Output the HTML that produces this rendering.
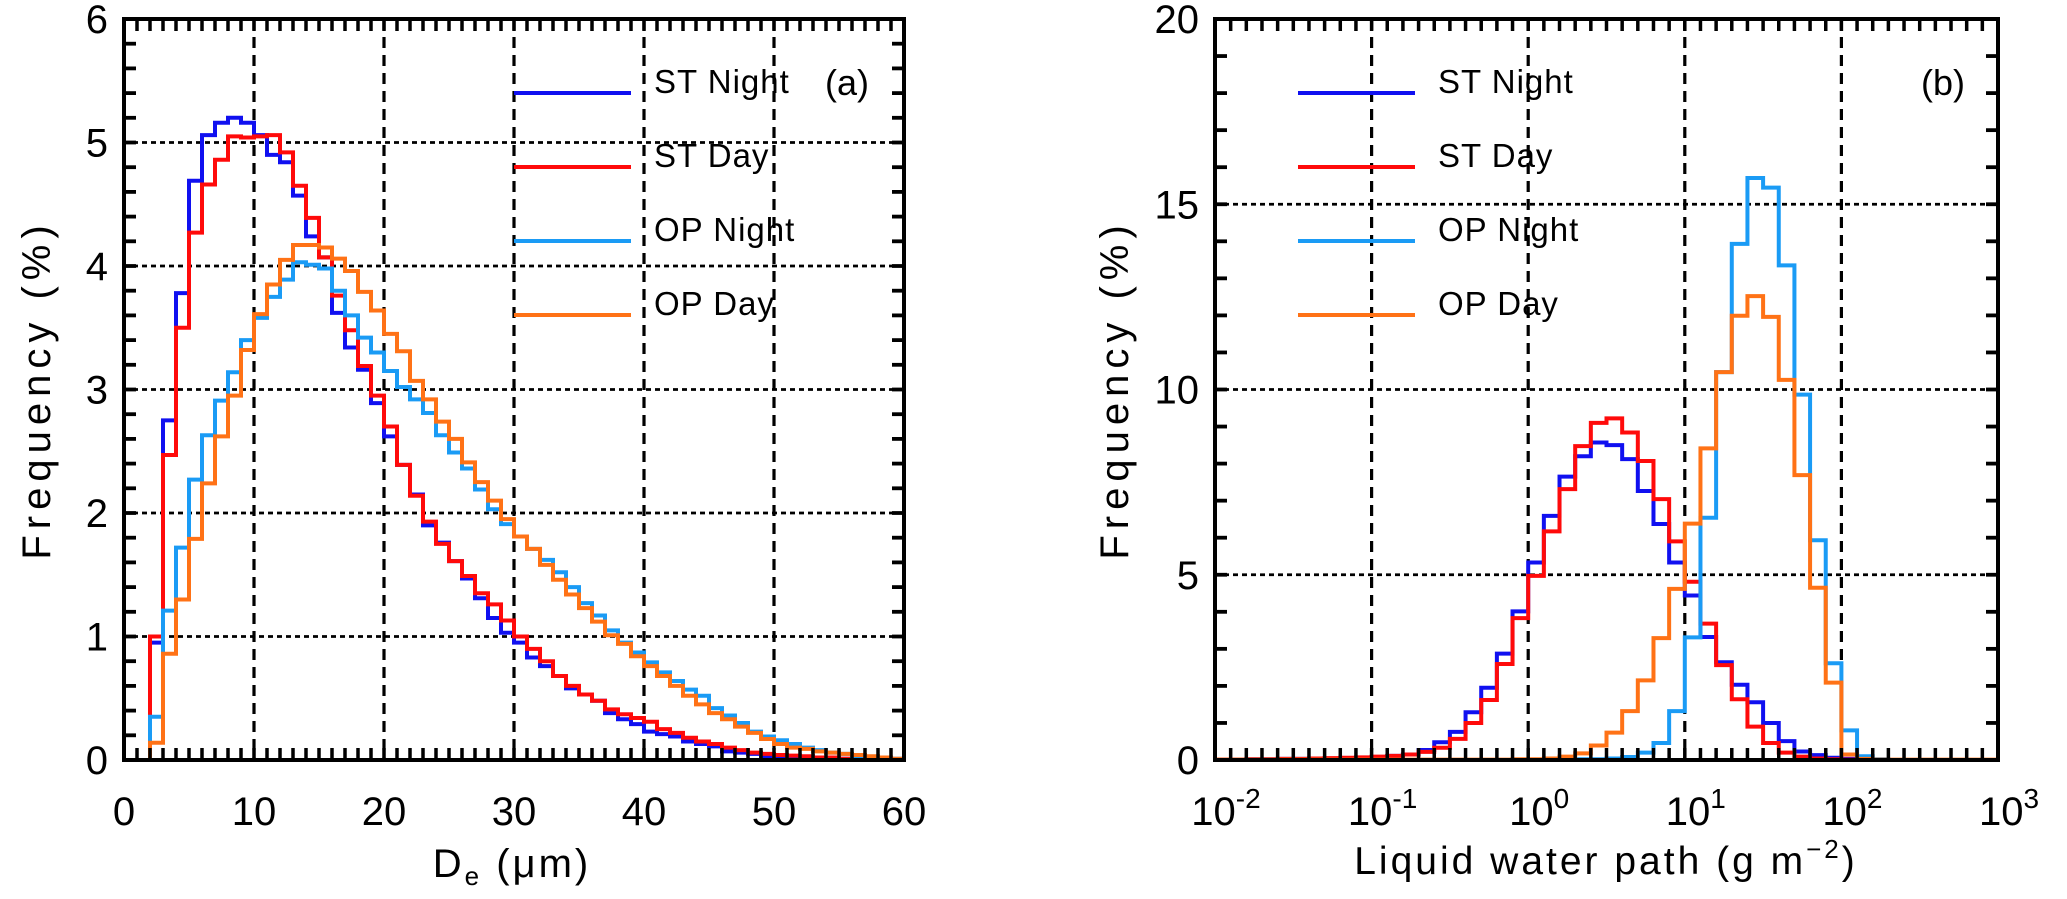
<!DOCTYPE html>
<html><head><meta charset="utf-8"><style>
html,body{margin:0;padding:0;background:#fff;}
svg{display:block;font-family:"Liberation Sans",sans-serif;}
</style></head><body>
<svg id="fig" width="2067" height="899" viewBox="0 0 2067 899" xmlns="http://www.w3.org/2000/svg">
<g id="pa"></g>
<g id="pb"></g>
</svg>
<script>
// ---------- Panel (a) data: De bins (1 µm wide), left edges ----------
const aBinLeft = Array.from({length:59},(_,i)=>i+1);
const aBinWidth = 1;
const aSTNight = [0,0.95,2.75,3.78,4.69,5.06,5.16,5.2,5.16,5.06,4.9,4.84,4.57,4.24,4.07,3.62,3.34,3.16,2.89,2.62,2.39,2.15,1.9,1.76,1.61,1.47,1.31,1.15,1.03,0.95,0.83,0.76,0.68,0.58,0.53,0.48,0.38,0.33,0.29,0.23,0.21,0.19,0.15,0.13,0.11,0.07,0.06,0.05,0.03,0.03,0.02,0.02,0.01,0.01,0.01,0,0,0,0];
const aSTDay = [0,1.0,2.47,3.5,4.27,4.66,4.86,5.05,5.04,5.05,5.06,4.92,4.65,4.39,4.07,3.76,3.48,3.19,2.95,2.7,2.39,2.14,1.93,1.75,1.61,1.49,1.35,1.26,1.13,1.0,0.9,0.8,0.68,0.6,0.53,0.48,0.41,0.37,0.34,0.31,0.25,0.22,0.18,0.15,0.13,0.1,0.08,0.06,0.05,0.04,0.035,0.03,0.02,0.02,0.01,0.01,0.01,0,0];
const aOPNight = [0,0.35,1.21,1.72,2.27,2.63,2.91,3.14,3.4,3.58,3.75,3.89,4.03,4.01,3.98,3.8,3.6,3.42,3.3,3.15,3.02,2.92,2.81,2.63,2.49,2.36,2.19,2.03,1.91,1.81,1.71,1.62,1.52,1.4,1.27,1.17,1.05,0.95,0.87,0.79,0.71,0.64,0.57,0.52,0.42,0.36,0.3,0.23,0.19,0.16,0.13,0.1,0.08,0.06,0.05,0.03,0.02,0.02,0.01];
const aOPDay = [0,0.14,0.86,1.3,1.79,2.24,2.62,2.95,3.32,3.61,3.85,4.05,4.17,4.17,4.15,4.06,3.96,3.79,3.64,3.45,3.31,3.07,2.92,2.74,2.6,2.41,2.25,2.1,1.95,1.81,1.71,1.58,1.46,1.34,1.23,1.12,1.01,0.94,0.84,0.76,0.68,0.6,0.52,0.45,0.38,0.33,0.27,0.22,0.17,0.13,0.1,0.09,0.07,0.06,0.05,0.04,0.03,0.02,0.01];
const aXTicks = [0,10,20,30,40,50,60];
const aXTickLabels = ["0","10","20","30","40","50","60"];
const aYTicks = [0,1,2,3,4,5,6];
const aYTickLabels = ["0","1","2","3","4","5","6"];

// ---------- Panel (b) data: LWP bins (0.1 decade), left edges in log10 ----------
const bBinLeftLog = Array.from({length:50},(_,i)=>-2+0.1*i);
const bBinWidthLog = 0.1;
const bSTNight = [0.01,0.01,0.02,0.02,0.03,0.03,0.04,0.04,0.05,0.06,0.08,0.11,0.15,0.27,0.48,0.76,1.29,1.95,2.87,4.01,5.33,6.59,7.65,8.2,8.57,8.5,8.12,7.26,6.37,5.33,4.44,3.32,2.64,2.03,1.56,1.0,0.51,0.23,0.13,0.06,0.03,0.01,0,0,0,0,0,0,0,0];
const bSTDay = [0.01,0.01,0.02,0.02,0.03,0.03,0.04,0.05,0.06,0.07,0.09,0.11,0.15,0.22,0.33,0.57,1.0,1.62,2.59,3.83,4.97,6.17,7.31,8.47,9.1,9.22,8.84,8.07,7.04,5.9,4.81,3.68,2.56,1.64,0.9,0.46,0.2,0.09,0.04,0.02,0.01,0,0,0,0,0,0,0,0,0];
const bOPNight = [0,0,0,0,0,0,0,0,0,0,0,0,0,0,0,0,0,0,0,0,0.01,0.01,0.02,0.02,0.02,0.04,0.08,0.2,0.46,1.32,3.31,6.54,10.47,13.93,15.71,15.45,13.35,9.86,5.93,2.61,0.8,0.1,0.02,0,0,0,0,0,0,0];
const bOPDay = [0.01,0.01,0.01,0.01,0.01,0.01,0.01,0.01,0.01,0.01,0.01,0.01,0.01,0.01,0.01,0.01,0.01,0.01,0.01,0.02,0.02,0.04,0.09,0.18,0.39,0.74,1.32,2.15,3.29,4.62,6.38,8.41,10.47,11.99,12.52,11.96,10.26,7.69,4.65,2.09,0.15,0.03,0.01,0.01,0.01,0.01,0.01,0.01,0.01,0.01];
const bXTicks = [-2,-1,0,1,2,3];
const bXTickExp = ["-2","-1","0","1","2","3"];
const bYTicks = [0,5,10,15,20];
const bYTickLabels = ["0","5","10","15","20"];

const seriesNames = ["ST Night","ST Day","OP Night","OP Day"];
const colors = ["#1010f0","#ff0a0a","#1a9bf5","#ff7216"];
const NS = "http://www.w3.org/2000/svg";

function mk(parent, tag, attrs, text){
  const e = document.createElementNS(NS, tag);
  for (const k in attrs) e.setAttribute(k, attrs[k]);
  if (text !== undefined) e.textContent = text;
  parent.appendChild(e);
  return e;
}

function drawPanel(g, cfg){
  const {L,R,T,B,xs,ys} = cfg;
  cfg.yGrid.forEach(v=>{
    const y = ys(v);
    const l = mk(g,'line',{x1:L,x2:R,y1:y,y2:y,stroke:'#000','stroke-width':2.8,'stroke-dasharray':'5 4'});
    
    
  });
  cfg.xGrid.forEach(v=>{
    const x = xs(v);
    const l = mk(g,'line',{x1:x,x2:x,y1:T,y2:B,stroke:'#000','stroke-width':3.2,'stroke-dasharray':'11 7'});
    
    
  });
  cfg.series.forEach((vals,si)=>{
    let d = '';
    vals.forEach((v,i)=>{
      const x0 = xs(cfg.binLeft[i]), x1 = xs(cfg.binLeft[i]+cfg.binW), y = ys(v);
      d += (i===0 ? `M${x0},${ys(0)}L${x0},${y}` : `L${x0},${y}`) + `L${x1},${y}`;
    });
    const p = mk(g,'path',{d:d,fill:'none',stroke:colors[si],'stroke-width':4,'stroke-linejoin':'miter'});
    
    
  });
  cfg.xMinor.forEach(v=>{
    const x = xs(v);
    mk(g,'line',{x1:x,x2:x,y1:B,y2:B-12,stroke:'#000','stroke-width':3.5});
    mk(g,'line',{x1:x,x2:x,y1:T,y2:T+12,stroke:'#000','stroke-width':3.5});
  });
  cfg.yMinor.forEach(v=>{
    const y = ys(v);
    mk(g,'line',{x1:L,x2:L+12,y1:y,y2:y,stroke:'#000','stroke-width':3.8});
    mk(g,'line',{x1:R,x2:R-12,y1:y,y2:y,stroke:'#000','stroke-width':3.8});
  });
  const f = mk(g,'rect',{x:L,y:T,width:R-L,height:B-T,fill:'none',stroke:'#000','stroke-width':4});
  
  
  const ly = [93,167,241,315];
  seriesNames.forEach((n,i)=>{
    const gl = mk(g,'g',{});
    
    
    mk(gl,'line',{x1:cfg.legX,x2:cfg.legX+117,y1:ly[i],y2:ly[i],stroke:colors[i],'stroke-width':4});
    mk(gl,'text',{x:cfg.legX+140,y:ly[i],'font-size':33,'letter-spacing':'1'}, n);
  });
  const pl = mk(g,'text',{x:cfg.tagX,y:95,'font-size':36,'text-anchor':'middle'},cfg.tag);
  
  
  cfg.yTicks.forEach((v,i)=>{
    const t = mk(g,'text',{x:L-16,y:ys(v)+14,'font-size':40,'text-anchor':'end'},cfg.yLabels[i]);
    
    
  });
  const yt = mk(g,'text',{x:0,y:0,'font-size':40,'text-anchor':'middle','letter-spacing':'6',transform:`translate(${cfg.yTitleX},${(T+B)/2}) rotate(-90)`},'Frequency (%)');
  
  
}

// Panel a
(function(){
  const g = document.getElementById('pa');
  const L=124,R=904,T=19,B=760;
  const xs = v => L + (v-0)/60*(R-L);
  const ys = v => B - v/6*(B-T);
  const xMinor=[]; for(let v=1;v<60;v++) xMinor.push(v);
  const yMinor=[]; for(let k=1;k<30;k++) yMinor.push(k*0.2);
  drawPanel(g,{L,R,T,B,xs,ys,yGrid:[1,2,3,4,5],xGrid:[10,20,30,40,50],
    series:[aSTNight,aSTDay,aOPNight,aOPDay],binLeft:aBinLeft,binW:aBinWidth,
    xMinor,yMinor,legX:514,tagX:847,tag:'(a)',yTicks:aYTicks,yLabels:aYTickLabels,yTitleX:50});
  aXTicks.forEach((v,i)=>{
    const t = mk(g,'text',{x:xs(v),y:825,'font-size':40,'text-anchor':'middle'},aXTickLabels[i]);
    
    
  });
  const xt = mk(g,'text',{x:512,y:877,'font-size':40,'text-anchor':'middle','letter-spacing':'3'});
  
  
  xt.innerHTML = 'D<tspan font-size="26" dy="8">e</tspan><tspan dy="-8"> (μm)</tspan>';
})();

// Panel b
(function(){
  const g = document.getElementById('pb');
  const L=1215,R=1998,T=19,B=760;
  const xs = v => L + (v+2)/5*(R-L);
  const ys = v => B - v/20*(B-T);
  const xMinor=[]; for(let k=1;k<50;k++) xMinor.push(-2+k*0.1);
  const yMinor=[]; for(let v=1;v<20;v++) yMinor.push(v);
  drawPanel(g,{L,R,T,B,xs,ys,yGrid:[5,10,15],xGrid:[-1,0,1,2],
    series:[bSTNight,bSTDay,bOPNight,bOPDay],binLeft:bBinLeftLog,binW:bBinWidthLog,
    xMinor,yMinor,legX:1298,tagX:1943,tag:'(b)',yTicks:bYTicks,yLabels:bYTickLabels,yTitleX:1128});
  bXTicks.forEach((v,i)=>{
    const t = mk(g,'text',{x:xs(v)+11,y:825,'font-size':40,'text-anchor':'middle'});
    
    
    t.innerHTML = '10<tspan font-size="28" dy="-17">'+bXTickExp[i]+'</tspan>';
  });
  const xt = mk(g,'text',{x:1606,y:874,'font-size':39,'text-anchor':'middle','letter-spacing':'3'});
  
  
  xt.innerHTML = 'Liquid water path (g m<tspan font-size="26" dy="-16">−2</tspan><tspan dy="16">)</tspan>';
})();
</script>
</body></html>
